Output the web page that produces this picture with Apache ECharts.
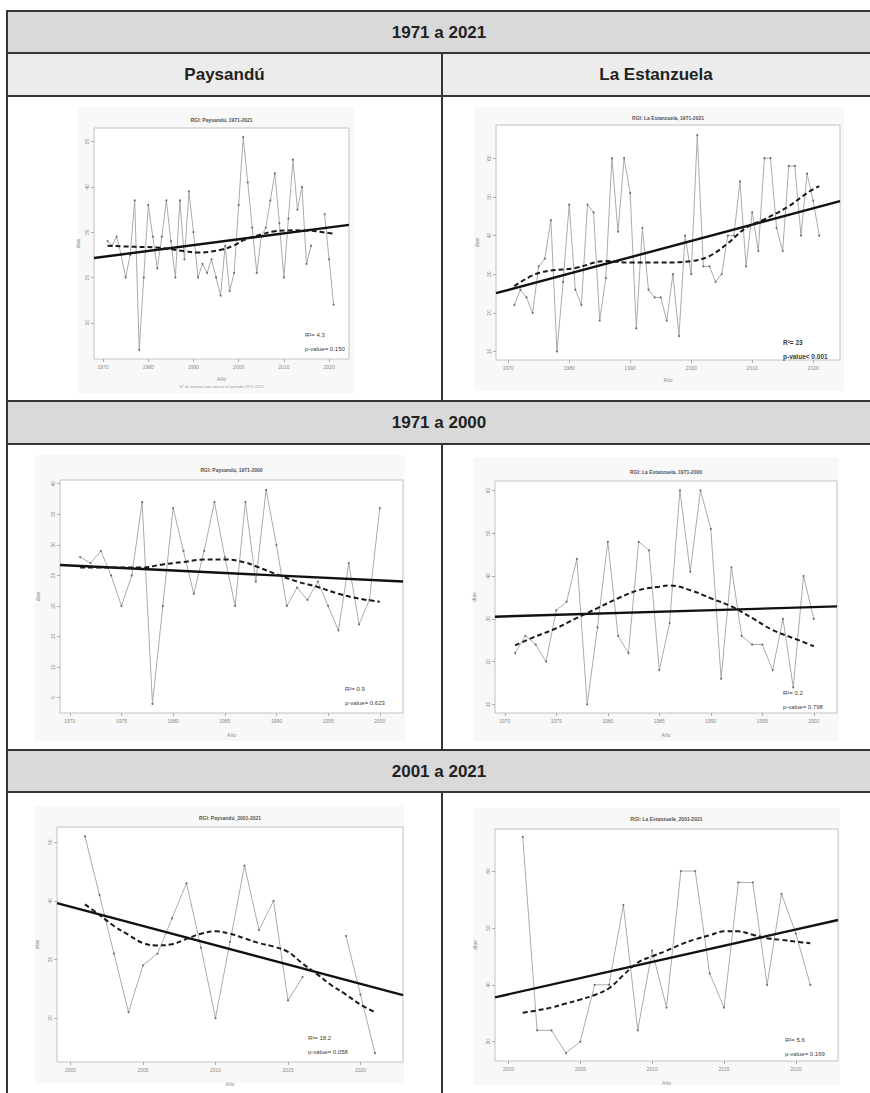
<!DOCTYPE html>
<html lang="es">
<head>
<meta charset="utf-8">
<title>Tendencias: Paysandú y La Estanzuela</title>
<script src="https://cdn.jsdelivr.net/npm/echarts@6/dist/echarts.min.js"></script>
<style>
  html, body { margin: 0; padding: 0; background: #fff; }
  #chart { width: 870px; height: 1093px; }
</style>
</head>
<body>
<div id="chart"></div>
<script>
// ---------- data ----------
const years = [1971, 1972, 1973, 1974, 1975, 1976, 1977, 1978, 1979, 1980,
  1981, 1982, 1983, 1984, 1985, 1986, 1987, 1988, 1989, 1990,
  1991, 1992, 1993, 1994, 1995, 1996, 1997, 1998, 1999, 2000,
  2001, 2002, 2003, 2004, 2005, 2006, 2007, 2008, 2009, 2010,
  2011, 2012, 2013, 2014, 2015, 2016, 2017, 2018, 2019, 2020, 2021];

// annual values (null = missing year)
const paysandu = [28, 27, 29, 25, 20, 25, 37, 4, 20, 36,
  29, 22, 29, 37, 28, 20, 37, 24, 39, 30,
  20, 23, 21, 24, 20, 16, 27, 17, 21, 36,
  51, 41, 31, 21, 29, 31, 37, 43, 32, 20,
  33, 46, 35, 40, 23, 27, null, null, 34, 24, 14];

const estanzuela = [22, 26, 24, 20, 32, 34, 44, 10, 28, 48,
  26, 22, 48, 46, 18, 29, 60, 41, 60, 51,
  16, 42, 26, 24, 24, 18, 30, 14, 40, 30,
  66, 32, 32, 28, 30, 40, 40, 54, 32, 46,
  36, 60, 60, 42, 36, 58, 58, 40, 56, 49, 40];

// linear trend: value at the left and right end of each x range
const trendPay7121 = [24.3, 31.6];
const trendEst7121 = [25.1, 48.9];
const trendPay7100 = [26.7, 24.0];
const trendEst7100 = [30.5, 32.9];
const trendPay0121 = [39.6, 23.9];
const trendEst0121 = [37.8, 51.4];

// smoothed (loess) curves
const loessYearsPay7121 = [1971, 1976, 1982, 1988, 1991, 1996, 1999, 2001, 2005, 2008, 2012, 2016, 2020, 2021];
const loessPay7121 = [27.0, 26.8, 26.6, 25.8, 25.5, 26.1, 27.1, 28.2, 29.5, 30.2, 30.4, 30.3, 29.8, 29.7];

const loessYearsEst7121 = [1971, 1975, 1981, 1986, 1990, 1995, 2000, 2003, 2006, 2009, 2012, 2016, 2019, 2021];
const loessEst7121 = [26.9, 30.3, 31.6, 33.4, 33.0, 33.0, 33.4, 34.7, 38.0, 42.0, 44.2, 47.6, 51.0, 52.8];

const loessYearsPay7100 = [1971, 1974, 1977, 1979, 1981, 1983, 1985, 1987, 1988, 1990, 1992, 1994, 1996, 1998, 2000];
const loessPay7100 = [26.3, 26.3, 26.3, 26.8, 27.2, 27.6, 27.6, 27.1, 26.5, 25.2, 24.0, 23.1, 22.0, 21.2, 20.7];

const loessYearsEst7100 = [1971, 1973, 1975, 1977, 1979, 1981, 1983, 1985, 1986, 1988, 1990, 1992, 1994, 1996, 1998, 2000];
const loessEst7100 = [23.8, 25.9, 27.8, 30.2, 32.5, 34.8, 36.7, 37.5, 37.8, 36.7, 34.8, 32.9, 30.2, 27.4, 25.5, 23.6];

const loessYearsPay0121 = [2001, 2002, 2003, 2004, 2005, 2006, 2007, 2008, 2009, 2010, 2011,
  2012, 2013, 2014, 2015, 2016, 2017, 2018, 2019, 2020, 2021];
const loessPay0121 = [39.4, 37.6, 35.7, 34.2, 32.8, 32.4, 32.6, 33.5, 34.4, 34.8, 34.4,
  33.6, 32.8, 32.2, 31.3, 29.3, 27.5, 25.6, 24.0, 22.3, 21.0];

const loessYearsEst0121 = loessYearsPay0121;
const loessEst0121 = [35.1, 35.5, 36.0, 36.7, 37.4, 38.2, 39.4, 41.7, 43.9, 45.0, 46.0,
  47.1, 48.0, 48.7, 49.4, 49.4, 48.8, 48.2, 47.9, 47.6, 47.3];

// tick labels
const xTicksDecades = [1970, 1980, 1990, 2000, 2010, 2020];
const xTicks7100 = [1970, 1975, 1980, 1985, 1990, 1995, 2000];
const xTicks0121 = [2000, 2005, 2010, 2015, 2020];
const yTicksPay7121 = [10, 20, 30, 40, 50];
const yTicksEst7121 = [10, 20, 30, 40, 50, 60];
const yTicksPay7100 = [5, 10, 15, 20, 25, 30, 35, 40];
const yTicksEst7100 = [10, 20, 30, 40, 50, 60];
const yTicksPay0121 = [20, 30, 40, 50];
const yTicksEst0121 = [30, 40, 50, 60];

// table text
const periodHeaders = ['1971 a 2021', '1971 a 2000', '2001 a 2021'];
const stationNames = ['Paysandú', 'La Estanzuela'];

// ---------- panels ----------
const n7100 = 30;
const panels = [
  { title: 'RGI: Paysandú, 1971-2021', years: years, values: paysandu,
    xRange: [1968, 2024.4], xTicks: xTicksDecades, yRange: [2, 53], yTicks: yTicksPay7121,
    trend: trendPay7121, loessYears: loessYearsPay7121, loess: loessPay7121,
    r2: 'R²= 4.3', p: 'p-value= 0.150', statFont: '6px',
    box: { left: 94, top: 128, width: 255, height: 231 }, titleY: 120, statAt: [305, 335],
    bg: [78, 107, 276, 286], yGap: 14, xGap: 17,
    note: 'Nº de eventos por año en el período 1971-2021' },
  { title: 'RGI: La Estanzuela, 1971-2021', years: years, values: estanzuela,
    xRange: [1968, 2024.4], xTicks: xTicksDecades, yRange: [7.8, 68.6], yTicks: yTicksEst7121,
    trend: trendEst7121, loessYears: loessYearsEst7121, loess: loessEst7121,
    r2: 'R²= 23', p: 'p-value< 0.001', statFont: 'bold 6.5px',
    box: { left: 496, top: 125, width: 344, height: 235 }, titleY: 118, statAt: [783, 342],
    bg: [474, 107, 370, 284], yGap: 17, xGap: 17 },
  { title: 'RGI: Paysandú, 1971-2000', years: years.slice(0, n7100), values: paysandu.slice(0, n7100),
    xRange: [1969.05, 2002.25], xTicks: xTicks7100, yRange: [2.5, 40.6], yTicks: yTicksPay7100,
    trend: trendPay7100, loessYears: loessYearsPay7100, loess: loessPay7100,
    r2: 'R²= 0.9', p: 'p-value= 0.623', statFont: '6px',
    box: { left: 60, top: 480, width: 343, height: 233 }, titleY: 470, statAt: [345, 689],
    bg: [35, 455, 370, 286], yGap: 20, xGap: 19 },
  { title: 'RGI: La Estanzuela, 1971-2000', years: years.slice(0, n7100), values: estanzuela.slice(0, n7100),
    xRange: [1969.05, 2002.25], xTicks: xTicks7100, yRange: [8, 62.2], yTicks: yTicksEst7100,
    trend: trendEst7100, loessYears: loessYearsEst7100, loess: loessEst7100,
    r2: 'R²= 0.2', p: 'p-value= 0.798', statFont: '6px',
    box: { left: 495, top: 481, width: 342, height: 232 }, titleY: 472, statAt: [783, 693],
    bg: [473, 457, 366, 284], yGap: 19, xGap: 19 },
  { title: 'RGI: Paysandú_2001-2021', years: years.slice(n7100), values: paysandu.slice(n7100),
    xRange: [1999.07, 2022.93], xTicks: xTicks0121, yRange: [12.5, 52.6], yTicks: yTicksPay0121,
    trend: trendPay0121, loessYears: loessYearsPay0121, loess: loessPay0121,
    r2: 'R²= 18.2', p: 'p-value= 0.058', statFont: '6px',
    box: { left: 57, top: 827, width: 346, height: 235 }, titleY: 818, statAt: [308, 1038],
    bg: [35, 806, 369, 277], yGap: 18, xGap: 19 },
  { title: 'RGI: La Estanzuela_2001-2021', years: years.slice(n7100), values: estanzuela.slice(n7100),
    xRange: [1999.07, 2022.93], xTicks: xTicks0121, yRange: [26.6, 67.4], yTicks: yTicksEst0121,
    trend: trendEst0121, loessYears: loessYearsEst0121, loess: loessEst0121,
    r2: 'R²= 5.6', p: 'p-value= 0.169', statFont: '6px',
    box: { left: 495, top: 829, width: 343, height: 232 }, titleY: 819, statAt: [785, 1040],
    bg: [473, 808, 367, 277], yGap: 18, xGap: 19 }
];

const FONT = '"Liberation Sans", Arial, sans-serif';
const tinyLabel = { fontSize: 5, color: '#8a8a8a', fontFamily: FONT };

const grids = [], xAxes = [], yAxes = [], series = [], graphics = [];

panels.forEach((pn, i) => {
  grids.push(Object.assign({ show: true, borderColor: '#c2c2c2', borderWidth: 1,
    backgroundColor: '#ffffff', containLabel: false }, pn.box));

  xAxes.push({
    gridIndex: i, type: 'value', min: pn.xRange[0], max: pn.xRange[1],
    axisLine: { show: false }, splitLine: { show: false },
    axisTick: { show: true, length: 3, customValues: pn.xTicks, lineStyle: { color: '#9a9a9a', width: 0.8 } },
    axisLabel: Object.assign({ customValues: pn.xTicks, margin: 5, formatter: v => String(v) }, tinyLabel),
    name: 'Año', nameLocation: 'middle', nameGap: pn.xGap, nameTextStyle: tinyLabel
  });

  yAxes.push({
    gridIndex: i, type: 'value', min: pn.yRange[0], max: pn.yRange[1],
    axisLine: { show: false }, splitLine: { show: false },
    axisTick: { show: true, length: 3, customValues: pn.yTicks, lineStyle: { color: '#9a9a9a', width: 0.8 } },
    axisLabel: Object.assign({ customValues: pn.yTicks, margin: 5, rotate: 90 }, tinyLabel),
    name: 'días', nameLocation: 'middle', nameGap: pn.yGap, nameTextStyle: tinyLabel
  });

  // observed annual series
  series.push({
    type: 'line', xAxisIndex: i, yAxisIndex: i, z: 2,
    data: pn.years.map((yr, k) => [yr, pn.values[k] == null ? '-' : pn.values[k]]),
    connectNulls: false, showSymbol: true, symbol: 'circle', symbolSize: 2,
    itemStyle: { color: '#6e6e6e' },
    lineStyle: { color: '#ababab', width: 1 }, silent: true
  });
  // linear trend
  series.push({
    type: 'line', xAxisIndex: i, yAxisIndex: i, z: 3, symbol: 'none',
    data: [[pn.xRange[0], pn.trend[0]], [pn.xRange[1], pn.trend[1]]],
    lineStyle: { color: '#111', width: 2.4 }, silent: true
  });
  // loess smoother
  series.push({
    type: 'line', xAxisIndex: i, yAxisIndex: i, z: 4, symbol: 'none', smooth: 0.4,
    data: pn.loessYears.map((yr, k) => [yr, pn.loess[k]]),
    lineStyle: { color: '#1a1a1a', width: 2, type: [5, 3] }, silent: true
  });

  // plot image background, title, statistics
  graphics.push({ type: 'rect', z: -2, silent: true,
    shape: { x: pn.bg[0], y: pn.bg[1], width: pn.bg[2], height: pn.bg[3] },
    style: { fill: '#f8f8f8' } });
  graphics.push({ type: 'text', z: 20, silent: true,
    x: pn.box.left + pn.box.width / 2, y: pn.titleY,
    style: { text: pn.title, font: 'bold 5px ' + FONT, fill: '#555', align: 'center', verticalAlign: 'middle' } });
  graphics.push({ type: 'text', z: 20, silent: true, x: pn.statAt[0], y: pn.statAt[1],
    style: { text: pn.r2, font: pn.statFont + ' ' + FONT, fill: '#3a3a3a', align: 'left', verticalAlign: 'middle' } });
  graphics.push({ type: 'text', z: 20, silent: true, x: pn.statAt[0], y: pn.statAt[1] + 14,
    style: { text: pn.p, font: pn.statFont + ' ' + FONT, fill: '#3a3a3a', align: 'left', verticalAlign: 'middle' } });
  if (pn.note) {
    graphics.push({ type: 'text', z: 20, silent: true,
      x: pn.box.left + pn.box.width / 2, y: pn.box.top + pn.box.height + 27,
      style: { text: pn.note, font: '4px ' + FONT, fill: '#9a9a9a', align: 'center', verticalAlign: 'middle' } });
  }
});

// ---------- table frame ----------
const T = { left: 7, right: 871, mid: 442, bottom: 1093 };
const rows = { h1: [11, 53], names: [53, 96], plot1: [96, 401], h2: [401, 444], plot2: [444, 750], h3: [750, 792], plot3: [792, 1093] };

function fillRow(r, color) {
  graphics.push({ type: 'rect', z: -3, silent: true,
    shape: { x: T.left, y: r[0], width: T.right - T.left, height: r[1] - r[0] },
    style: { fill: color } });
}
function hLine(y) {
  graphics.push({ type: 'line', z: 30, silent: true,
    shape: { x1: T.left - 1, y1: y, x2: T.right, y2: y }, style: { stroke: '#353535', lineWidth: 2 } });
}
function vLine(x, y1, y2) {
  graphics.push({ type: 'line', z: 30, silent: true,
    shape: { x1: x, y1: y1, x2: x, y2: y2 }, style: { stroke: '#353535', lineWidth: 2 } });
}
function cellText(txt, cx, cy) {
  graphics.push({ type: 'text', z: 31, silent: true, x: cx, y: cy,
    style: { text: txt, font: 'bold 17px ' + FONT, fill: '#222', align: 'center', verticalAlign: 'middle' } });
}

fillRow(rows.h1, '#d9d9d9');
fillRow(rows.names, '#ececec');
fillRow(rows.h2, '#d9d9d9');
fillRow(rows.h3, '#d9d9d9');
[rows.h1[0], rows.h1[1], rows.names[1], rows.h2[0], rows.h2[1], rows.h3[0], rows.h3[1]].forEach(hLine);
vLine(T.left, rows.h1[0] - 1, T.bottom);
vLine(T.mid, rows.names[0], rows.plot1[1]);
vLine(T.mid, rows.plot2[0], rows.plot2[1]);
vLine(T.mid, rows.plot3[0], T.bottom);

const centerX = 439;
cellText(periodHeaders[0], centerX, (rows.h1[0] + rows.h1[1]) / 2);
cellText(periodHeaders[1], centerX, (rows.h2[0] + rows.h2[1]) / 2);
cellText(periodHeaders[2], centerX, (rows.h3[0] + rows.h3[1]) / 2);
cellText(stationNames[0], (T.left + T.mid) / 2, (rows.names[0] + rows.names[1]) / 2);
cellText(stationNames[1], (T.mid + 870) / 2, (rows.names[0] + rows.names[1]) / 2);

// ---------- render ----------
const chart = echarts.init(document.getElementById('chart'), null, { renderer: 'svg', width: 870, height: 1093 });
chart.setOption({
  animation: false,
  backgroundColor: '#ffffff',
  grid: grids,
  xAxis: xAxes,
  yAxis: yAxes,
  series: series,
  graphic: { elements: graphics }
});
</script>
</body>
</html>
